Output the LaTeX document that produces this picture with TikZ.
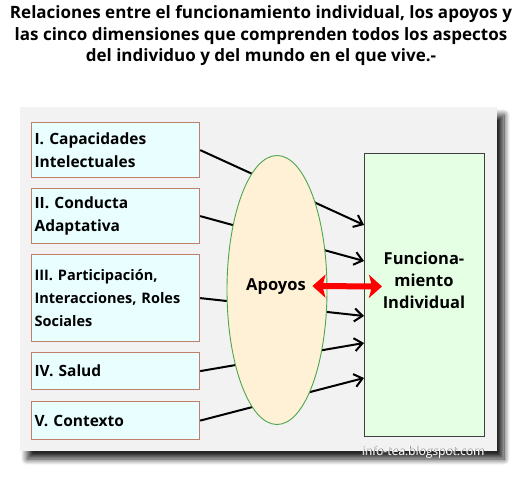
\documentclass[tikz,border=0pt]{standalone}
\usepackage{fontspec}
\setmainfont{Open Sans}
\usetikzlibrary{arrows.meta}
\usetikzlibrary{shadows.blur}
\usetikzlibrary{shapes.geometric}
\usetikzlibrary{positioning}

\definecolor{panelgray}{HTML}{F2F2F2}
\definecolor{dimfill}{HTML}{E8FEFF}
\definecolor{dimline}{HTML}{BF7F6A}
\definecolor{apofill}{HTML}{FFF1D6}
\definecolor{apoline}{HTML}{4CA64C}
\definecolor{funcfill}{HTML}{E4FFE4}

\tikzset{
  dimbox/.style={draw=dimline,line width=1.2pt,fill=dimfill,anchor=north west,
    minimum width=168pt,text width=162pt,inner sep=3pt,align=left,
    font=\bfseries\fontsize{15.5}{23}\selectfont},
  dimarrow/.style={->,line width=2pt,>={Straight Barb[length=8pt,width=13pt]}}
}

\begin{document}
\begin{tikzpicture}[x=1pt,y=-1pt]
  \useasboundingbox (0,0) rectangle (522,480);

  % title
  \node (title) at (261,36) [align=center,font=\bfseries\fontsize{17}{21.5}\selectfont]
    {Relaciones entre el funcionamiento individual, los apoyos y\\
     las cinco dimensiones que comprenden todos los aspectos\\
     del individuo y del mundo en el que vive.-};

  % panel
  \fill[panelgray,blur shadow={shadow xshift=7pt,shadow yshift=-8pt,shadow blur radius=6pt,
    shadow blur steps=12,shadow opacity=85}]
    (20,107) rectangle (497,451);

  % dimensions
  \node (cap) at (31,122) [dimbox,minimum height=55pt] {I. Capacidades\\Intelectuales};
  \node (cond) at (31,188) [dimbox,minimum height=55pt] {II. Conducta\\Adaptativa};
  \node (part) at (31,254) [dimbox,minimum height=87pt,font=\bfseries\fontsize{14.5}{23}\selectfont]
    {III. Participación,\\Interacciones, Roles\\Sociales};
  \node (salud) at (31,352) [dimbox,minimum height=37pt] {IV. Salud};
  \node (ctx) at (31,401) [dimbox,minimum height=38pt] {V. Contexto};

  % funcionamiento
  \node (func) at (364,153) [draw=black!75,line width=1pt,fill=funcfill,anchor=north west,
    minimum width=120pt,minimum height=283pt] {};
  \node (functext) at (424,280) [align=center,font=\bfseries\fontsize{16.5}{22}\selectfont]
    {Funciona-\\miento\\Individual};

  \path[dimarrow]
    (cap.east) edge ([yshift=70pt]func.west)
    (cond.east) edge ([yshift=34pt]func.west)
    (part.east) edge ([yshift=-21pt]func.west)
    (salud.east) edge ([yshift=-48pt]func.west)
    (ctx.east) edge ([yshift=-83pt]func.west);

  % apoyos
  \node (apoyos) at (277,290) [ellipse,draw=apoline,line width=0.9pt,fill=apofill,
    minimum width=100pt,minimum height=269pt,inner sep=0pt] {};
  \node (apotext) at (276,287) [font=\bfseries\fontsize{16.5}{20}\selectfont] {Apoyos};

  \draw[red,line width=6pt,{Stealth[length=13pt,width=23pt,inset=3pt]}-{Stealth[length=13pt,width=23pt,inset=3pt]}]
    ([xshift=-15pt,yshift=4pt]apoyos.east) -- ([xshift=18pt,yshift=8.5pt]func.west);

  % watermark
  \node (markshadow) at (423.8,452.8) [text=black!55,font=\fontsize{12}{13}\selectfont] {info-tea.blogspot.com};
  \node (mark) at (423,452) [text=white,font=\fontsize{12}{13}\selectfont] {info-tea.blogspot.com};
\end{tikzpicture}
\end{document}
